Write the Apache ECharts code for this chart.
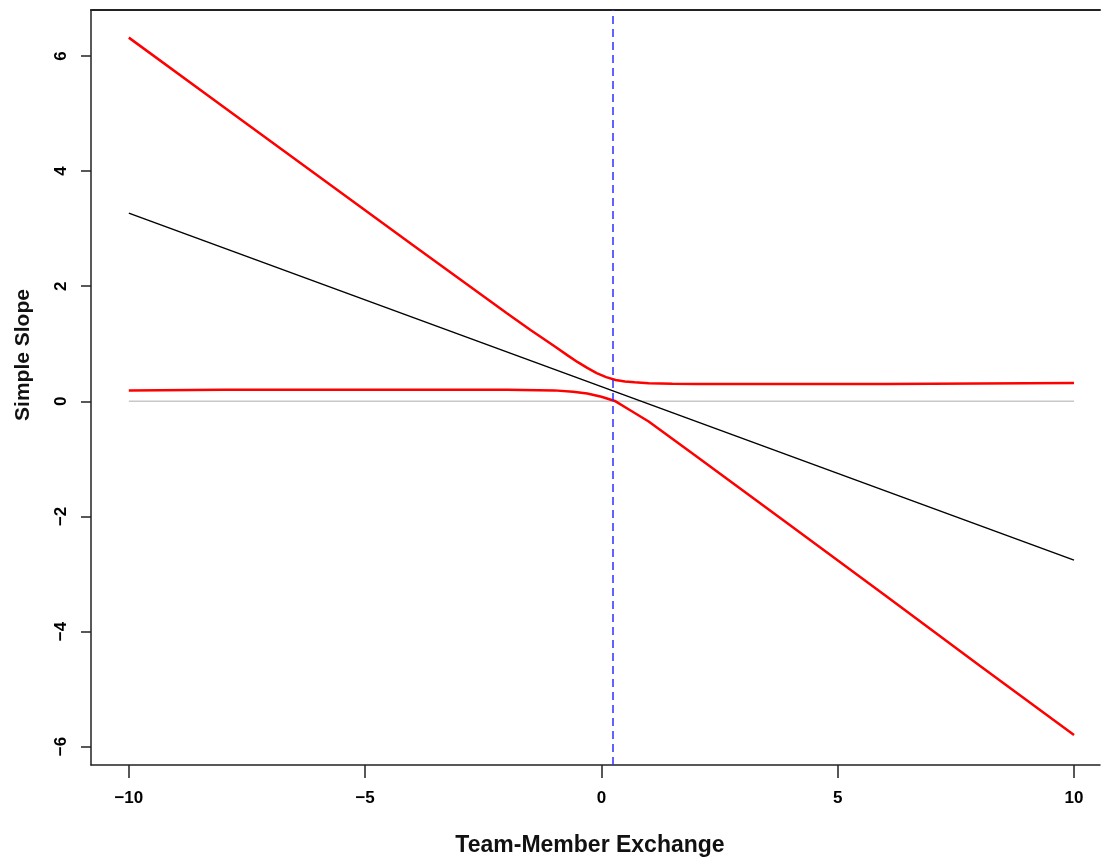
<!DOCTYPE html>
<html>
<head>
<meta charset="utf-8">
<script src="https://cdn.jsdelivr.net/npm/echarts@6/dist/echarts.min.js"></script>
<style>
  html, body { margin: 0; padding: 0; background: #fff; }
  #chart { width: 1101px; height: 865px; }
</style>
</head>
<body>
<div id="chart"></div>
<script>
// simple slope of the focal predictor across Team-Member Exchange
const slopeLine = [[-10, 3.27], [10, -2.76]];

// upper confidence band
const upperBand = [
  [-10, 6.32], [-8, 5.12], [-6, 3.92], [-4, 2.72], [-2, 1.53], [-1.5, 1.24],
  [-1, 0.96], [-0.7, 0.79], [-0.5, 0.68], [-0.3, 0.58], [-0.1, 0.49], [0.1, 0.42],
  [0.3, 0.37], [0.5, 0.345], [0.7, 0.33], [1, 0.315], [1.5, 0.305], [2, 0.30],
  [4, 0.30], [6, 0.30], [8, 0.31], [10, 0.32]
];

// lower confidence band
const lowerBand = [
  [-10, 0.19], [-8, 0.2], [-6, 0.2], [-4, 0.2], [-2, 0.2], [-1, 0.19],
  [-0.6, 0.165], [-0.3, 0.135], [0, 0.08], [0.3, 0.0], [0.6, -0.15], [0.8, -0.25],
  [1, -0.35], [1.5, -0.65], [2, -0.95], [4, -2.16], [6, -3.37], [8, -4.59],
  [10, -5.80]
];

const zeroLine = [[-10, 0], [10, 0]];
const jnPoint = 0.25; // Johnson-Neyman boundary

const xTicks = [-10, -5, 0, 5, 10];
const yTicks = [-6, -4, -2, 0, 2, 4, 6];

const chart = echarts.init(document.getElementById('chart'));

const labelFont = {
  fontFamily: 'Liberation Sans, Arial, sans-serif',
  fontWeight: 'bold',
  color: '#000'
};
const minus = (v) => String(v).replace('-', '\u2212');
const frame = { show: true, onZero: false, lineStyle: { color: '#222', width: 1.5 } };

chart.setOption({
  animation: false,
  backgroundColor: '#fff',
  grid: {
    left: 91,
    top: 10,
    bottom: 100,
    right: 1
  },
  xAxis: [
    {
      type: 'value',
      min: -10.8,
      max: 10.55,
      axisLine: frame,
      splitLine: { show: false },
      axisTick: {
        show: true,
        length: 13,
        customValues: xTicks,
        lineStyle: { color: '#222', width: 1.5 }
      },
      axisLabel: {
        ...labelFont,
        fontSize: 17,
        margin: 25,
        customValues: xTicks,
        formatter: minus
      }
    },
    {
      // top frame line
      type: 'value',
      position: 'top',
      min: -10.8,
      max: 10.55,
      axisLine: { show: true, onZero: false, lineStyle: { color: '#222', width: 2 } },
      axisTick: { show: false },
      axisLabel: { show: false },
      splitLine: { show: false }
    }
  ],
  yAxis: {
    type: 'value',
    min: -6.32,
    max: 6.80,
    axisLine: frame,
    splitLine: { show: false },
    axisTick: {
      show: true,
      length: 10,
      customValues: yTicks,
      lineStyle: { color: '#222', width: 1.5 }
    },
    axisLabel: {
      ...labelFont,
      fontSize: 17,
      rotate: 90,
      margin: 21,
      customValues: yTicks,
      formatter: minus
    }
  },
  graphic: [
    {
      type: 'text',
      x: 590,
      y: 846,
      style: {
        text: 'Team-Member Exchange',
        fontFamily: 'Liberation Sans, Arial, sans-serif',
        fontWeight: 'bold',
        fontSize: 23,
        fill: '#111',
        align: 'center',
        verticalAlign: 'middle'
      }
    },
    {
      type: 'text',
      x: 23,
      y: 355,
      rotation: Math.PI / 2,
      style: {
        text: 'Simple Slope',
        fontFamily: 'Liberation Sans, Arial, sans-serif',
        fontWeight: 'bold',
        fontSize: 21,
        fill: '#111',
        align: 'center',
        verticalAlign: 'middle'
      }
    }
  ],
  series: [
    {
      type: 'line',
      data: zeroLine,
      showSymbol: false,
      lineStyle: { color: '#c8c8c8', width: 1.5 },
      z: 1
    },
    {
      type: 'line',
      data: slopeLine,
      showSymbol: false,
      lineStyle: { color: '#000', width: 1.5 },
      z: 2
    },
    {
      type: 'line',
      data: upperBand,
      showSymbol: false,
      lineStyle: { color: '#ff0000', width: 2.5 },
      z: 3
    },
    {
      type: 'line',
      data: lowerBand,
      showSymbol: false,
      lineStyle: { color: '#ff0000', width: 2.5 },
      z: 3,
      markLine: {
        silent: true,
        symbol: 'none',
        label: { show: false },
        lineStyle: { color: '#2f2fff', width: 1.5, type: [8, 5] },
        data: [{ xAxis: jnPoint }]
      }
    }
  ]
});
</script>
</body>
</html>
